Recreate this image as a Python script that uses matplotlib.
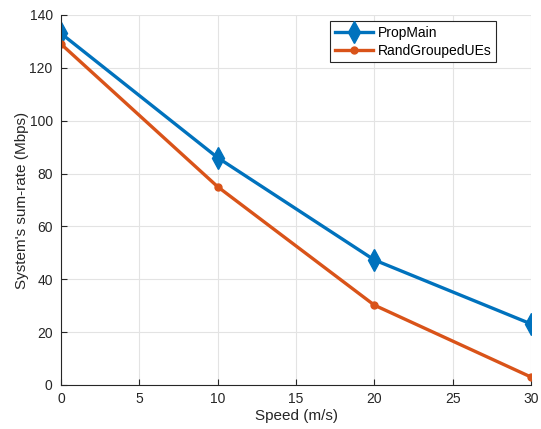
import matplotlib
matplotlib.use("Agg")
import matplotlib.pyplot as plt

# Datos
speed = [0, 10, 20, 30]
prop_main = [133, 86, 47.3, 23.1]
rand_grouped = [129, 75, 30.2, 3]

plt.rcParams['font.family'] = ['Liberation Sans', 'DejaVu Sans']
plt.rcParams['font.size'] = 10

fig = plt.figure(figsize=(5.41, 4.29), dpi=100)
ax = fig.add_axes([0.1128, 0.1026, 0.8688, 0.8625])

ax.plot(speed, prop_main, color='#0072BD', linewidth=2.4, marker='d',
        markersize=11, label='PropMain')
ax.plot(speed, rand_grouped, color='#D95319', linewidth=2.4, marker='o',
        markersize=5, label='RandGroupedUEs')

ax.set_xlim(0, 30)
ax.set_ylim(0, 140)
ax.set_xticks(range(0, 31, 5))
ax.set_yticks(range(0, 141, 20))
ax.grid(True, color='#e3e3e3', linewidth=0.8)
ax.set_axisbelow(True)
for s in ['top', 'right']:
    ax.spines[s].set_visible(False)
for s in ['left', 'bottom']:
    ax.spines[s].set_color('#262626')
    ax.spines[s].set_linewidth(0.8)
ax.tick_params(direction='in', length=4, colors='#262626', labelsize=10)
ax.tick_params(axis='x', pad=5)
ax.tick_params(axis='y', pad=6)

ax.set_xlabel('Speed (m/s)', color='#262626', fontsize=11, labelpad=2)
ax.set_ylabel("System's sum-rate (Mbps)", color='#262626', fontsize=11, labelpad=0.5)

leg = ax.legend(loc='upper right', bbox_to_anchor=(0.926, 0.983), fancybox=False,
                edgecolor='#262626', framealpha=1, handlelength=2.8,
                borderpad=0.35, labelspacing=0.25, handletextpad=0.3,
                borderaxespad=0)
leg.get_frame().set_linewidth(0.8)

fig.savefig('out.png', dpi=100)
